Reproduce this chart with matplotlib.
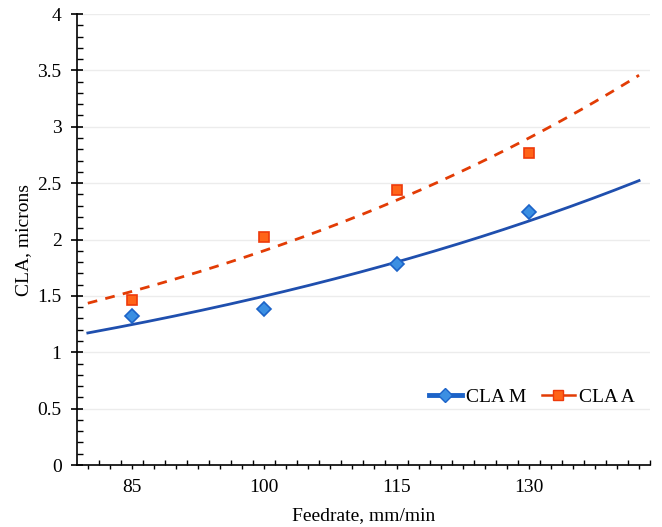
import numpy as np
import matplotlib
matplotlib.use("Agg")
import matplotlib.pyplot as plt
from matplotlib.ticker import MultipleLocator, FixedLocator, FuncFormatter
from matplotlib.lines import Line2D

plt.rcParams['font.family'] = ['Liberation Serif', 'DejaVu Serif']

feedrate = [85, 100, 115, 130]  # mm/min
cla_m = [1.32, 1.38, 1.78, 2.24]  # microns
cla_a = [1.46, 2.02, 2.44, 2.77]
trend_range = [80, 142.5]
x_labels = [85, 100, 115, 130]

blue_fill = '#3b8fe2'
blue_edge = '#1c63c8'
blue_line = '#1f4fae'
orange_fill = '#ff6418'
orange_edge = '#ee3a0a'
orange_line = '#e23c05'


def exp_trend(x, y, xr):
    # excel style exponential trendline: fit ln(y) against x
    b, a = np.polyfit(x, np.log(y), 1)
    xs = np.linspace(xr[0], xr[1], 200)
    return xs, np.exp(a) * np.exp(b * xs)


fig = plt.figure(figsize=(6.62, 5.27), dpi=100)
ax = fig.add_axes([0.116, 0.1176, 0.866, 0.8558])

xs, ys = exp_trend(feedrate, cla_m, trend_range)
ax.plot(xs, ys, color=blue_line, lw=2, zorder=3)
xs, ys = exp_trend(feedrate, cla_a, trend_range)
ax.plot(xs, ys, color=orange_line, lw=2, ls=(0, (3.5, 3)), zorder=3)

ax.plot(feedrate, cla_m, ls='none', marker='D', ms=7, mfc=blue_fill,
        mec=blue_edge, mew=1.2, zorder=4)
ax.plot(feedrate, cla_a, ls='none', marker='s', ms=7, mfc=orange_fill,
        mec=orange_edge, mew=1.2, zorder=4)

ax.set_xlim(78.75, 143.75)
ax.set_ylim(0, 4)

ax.xaxis.set_major_locator(MultipleLocator(2.5))
ax.xaxis.set_major_formatter(FuncFormatter(
    lambda v, p: '%d' % round(v) if any(abs(v - l) < 1e-6 for l in x_labels) else ''))
ax.xaxis.set_minor_locator(FixedLocator(np.arange(81.25, 143.8, 2.5)))
ax.tick_params(axis='x', which='major', direction='out', length=3, width=1,
               labelsize=14, pad=7)
ax.tick_params(axis='x', which='minor', direction='in', length=3.5, width=1)

ax.yaxis.set_major_locator(MultipleLocator(0.5))
ax.yaxis.set_major_formatter(FuncFormatter(lambda v, p: '%g' % v))
ax.yaxis.set_minor_locator(MultipleLocator(0.1))
ax.tick_params(axis='y', which='major', direction='inout', length=8, width=1.2,
               labelsize=14, pad=7)
ax.tick_params(axis='y', which='minor', direction='in', length=4, width=1)

ax.grid(axis='y', which='major', color='#ececec', lw=1)
ax.set_axisbelow(True)
for s in ['top', 'right']:
    ax.spines[s].set_visible(False)
for s in ['left', 'bottom']:
    ax.spines[s].set_linewidth(1.2)

ax.set_xlabel('Feedrate, mm/min', fontsize=14, labelpad=8)
ax.set_ylabel('CLA, microns', fontsize=14, labelpad=4)

handles = [
    Line2D([], [], color=blue_edge, lw=3.5, marker='D', ms=7, mfc=blue_fill, mec=blue_edge),
    Line2D([], [], color=orange_line, lw=1.8, marker='s', ms=7, mfc=orange_fill, mec=orange_edge),
]
ax.legend(handles, ['CLA M', 'CLA A'], loc='center', bbox_to_anchor=(0.803, 0.247),
          bbox_transform=fig.transFigure, ncol=2, frameon=False, fontsize=14,
          handlelength=1.7, handletextpad=0.2, columnspacing=0.8)

fig.savefig('out.png', dpi=100)
